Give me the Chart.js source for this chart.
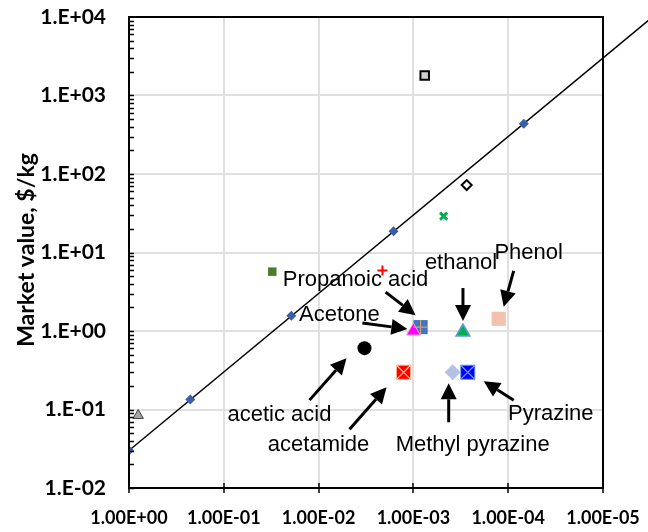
<!DOCTYPE html>
<html>
<head>
<meta charset="utf-8">
<script src="https://cdn.jsdelivr.net/npm/chart.js@4.4.1/dist/chart.umd.min.js"></script>
<style>
  html, body { margin: 0; padding: 0; background: #fff; }
  #wrap { width: 648px; height: 532px; }
</style>
</head>
<body>
<div id="wrap"><canvas id="c" width="648" height="532"></canvas></div>
<script>
// fitted line and its points
const lineX = [1, 0.226, 0.0194, 0.00162, 0.0000684];
const lineY = [0.03, 0.134, 1.56, 18.6, 437];
const fitX = [1, 0.0000033];
const fitY = [0.03, 9100];

// labelled compounds
const names = ['Acetone', 'Propanoic acid', 'ethanol', 'Phenol', 'acetic acid', 'acetamide', 'Methyl pyrazine', 'Pyrazine'];
const nameX = [0.001, 0.00084, 0.0003, 0.000126, 0.00328, 0.00127, 0.000385, 0.000267];
const nameY = [1.0, 1.12, 0.97, 1.43, 0.605, 0.298, 0.298, 0.298];

// unlabelled points
const otherX = [0.00076, 0.000274, 0.00048, 0.00212, 0.0308, 0.80];
const otherY = [1800, 72.3, 29, 5.9, 5.7, 0.084];

// ticks
const xTicks = [1, 0.1, 0.01, 0.001, 0.0001, 0.00001];
const xTickLabels = ['1.00E+00', '1.00E-01', '1.00E-02', '1.00E-03', '1.00E-04', '1.00E-05'];
const yTicks = [0.01, 0.1, 1, 10, 100, 1000, 10000];
const yTickLabels = ['1.E-02', '1.E-01', '1.E+00', '1.E+01', '1.E+02', '1.E+03', '1.E+04'];

// marker looks for the labelled ones (same order as names)
const nameStyle = [
  {ps: 'triangle', r: 8, bg: '#ff00ff', bc: '#f2a0f2', bw: 1},
  {ps: 'rect', r: 10, bg: '#4472c4', bc: '#4472c4', bw: 0, over: 'cross', oc: '#c8a86a', or: 7},
  {ps: 'triangle', r: 8, bg: '#00b050', bc: '#5b9bd5', bw: 1.5},
  {ps: 'rect', r: 10, bg: '#f4c0ae', bc: '#f4c0ae', bw: 0},
  {ps: 'circle', r: 7, bg: '#000', bc: '#000', bw: 0},
  {ps: 'rect', r: 10, bg: '#ff0000', bc: '#ffb38a', bw: 1, over: 'crossRot', oc: '#ffc090', or: 10},
  {ps: 'rectRot', r: 8, bg: '#b4c1e4', bc: '#b4c1e4', bw: 0},
  {ps: 'rect', r: 10, bg: '#0000ff', bc: '#6fa0d8', bw: 1, over: 'crossRot', oc: '#6fa0d8', or: 10}
];
const otherStyle = [
  {ps: 'rect', r: 6, bg: '#d0d0d0', bc: '#000', bw: 2},
  {ps: 'rectRot', r: 5, bg: '#fff', bc: '#000', bw: 2},
  {ps: 'crossRot', r: 5, bg: '#00b050', bc: '#00b050', bw: 3},
  {ps: 'cross', r: 5, bg: '#ff0000', bc: '#ff0000', bw: 2},
  {ps: 'rect', r: 6, bg: '#4e7a2e', bc: '#4e7a2e', bw: 0},
  {ps: 'triangle', r: 6, bg: '#a6a6a6', bc: '#404040', bw: 1}
];

// annotation offsets from the marker, in pixels: text centre, arrow tail, arrow tip
const notes = [
  {t: [-74, -16], a: [-51, -8], b: [-6, -2]},
  {t: [-65, -47], a: [-35, -35], b: [-5, -12]},
  {t: [-2, -69], a: [0, -44], b: [0, -11]},
  {t: [30, -66], a: [15, -48], b: [5, -12]},
  {t: [-85, 67], a: [-55, 52], b: [-18, 10]},
  {t: [-85, 73], a: [-54, 57], b: [-17, 15]},
  {t: [20, 73], a: [-4, 50], b: [-4, 11]},
  {t: [83, 42], a: [46, 28], b: [16, 9]}
];

const datasets = [];
datasets.push({
  type: 'line', data: fitX.map((x, i) => ({x: x, y: fitY[i]})),
  borderColor: '#000', borderWidth: 1.5, pointRadius: 0, clip: false, order: 5
});
datasets.push({
  data: lineX.map((x, i) => ({x: x, y: lineY[i]})),
  pointStyle: 'rectRot', pointRadius: 5, backgroundColor: '#3a5fa6', borderColor: '#3a5fa6', borderWidth: 0
});
otherX.forEach((x, i) => {
  const s = otherStyle[i];
  datasets.push({data: [{x: x, y: otherY[i]}], pointStyle: s.ps, pointRadius: s.r,
    backgroundColor: s.bg, borderColor: s.bc, borderWidth: s.bw});
});
nameX.forEach((x, i) => {
  const s = nameStyle[i];
  datasets.push({data: [{x: x, y: nameY[i]}], pointStyle: s.ps, pointRadius: s.r,
    backgroundColor: s.bg, borderColor: s.bc, borderWidth: s.bw});
  if (s.over) {
    datasets.push({data: [{x: x, y: nameY[i]}], pointStyle: s.over, pointRadius: s.or,
      backgroundColor: s.oc, borderColor: s.oc, borderWidth: 1.2, order: -1});
  }
});

function arrow(ctx, x1, y1, x2, y2) {
  const ang = Math.atan2(y2 - y1, x2 - x1);
  const hl = 16, hw = 8;
  const bx = x2 - hl * Math.cos(ang), by = y2 - hl * Math.sin(ang);
  ctx.beginPath();
  ctx.moveTo(x1, y1);
  ctx.lineTo(bx, by);
  ctx.lineWidth = 3;
  ctx.strokeStyle = '#000';
  ctx.stroke();
  ctx.beginPath();
  ctx.moveTo(x2, y2);
  ctx.lineTo(bx + hw * Math.sin(ang), by - hw * Math.cos(ang));
  ctx.lineTo(bx - hw * Math.sin(ang), by + hw * Math.cos(ang));
  ctx.closePath();
  ctx.fillStyle = '#000';
  ctx.fill();
}

const extras = {
  id: 'extras',
  afterDatasetsDraw(chart) {
    const ctx = chart.ctx, a = chart.chartArea;
    const xs = chart.scales.x, ys = chart.scales.y;
    ctx.save();
    // box
    ctx.strokeStyle = '#000';
    ctx.lineWidth = 2;
    ctx.strokeRect(a.left, a.top, a.right - a.left, a.bottom - a.top);
    // x ticks crossing the axis
    ctx.lineWidth = 1.5;
    xTicks.forEach(v => {
      const px = Math.round(xs.getPixelForValue(v));
      ctx.beginPath();
      ctx.moveTo(px, a.bottom - 5);
      ctx.lineTo(px, a.bottom + 5);
      ctx.stroke();
    });
    // y minor ticks, inside
    for (let k = -2; k < 4; k++) {
      for (let m = 1; m < 10; m++) {
        const py = Math.round(ys.getPixelForValue(m * Math.pow(10, k))) + 0.5;
        ctx.beginPath();
        ctx.moveTo(a.left, py);
        ctx.lineTo(a.left + 5, py);
        ctx.stroke();
      }
    }
    // annotations
    ctx.font = '22px "Liberation Sans", Arial, sans-serif';
    ctx.textAlign = 'center';
    ctx.textBaseline = 'middle';
    names.forEach((n, i) => {
      const px = xs.getPixelForValue(nameX[i]), py = ys.getPixelForValue(nameY[i]);
      const o = notes[i];
      arrow(ctx, px + o.a[0], py + o.a[1], px + o.b[0], py + o.b[1]);
      ctx.fillStyle = '#000';
      ctx.fillText(n, px + o.t[0], py + o.t[1]);
    });
    // y title
    ctx.translate(27, 250);
    ctx.rotate(-Math.PI / 2);
    ctx.font = 'bold 23px Lato, sans-serif';
    ctx.fillText('Market value, $/kg', 0, 0);
    ctx.restore();
  }
};

new Chart(document.getElementById('c'), {
  type: 'scatter',
  data: {datasets: datasets},
  options: {
    responsive: false,
    devicePixelRatio: 1,
    animation: false,
    layout: {padding: {top: 17, right: 45, left: 0, bottom: 0}},
    plugins: {legend: {display: false}, tooltip: {enabled: false}},
    scales: {
      x: {
        type: 'logarithmic', reverse: true, min: 0.00001, max: 1,
        afterBuildTicks: s => { s.ticks = xTicks.slice().reverse().map(v => ({value: v})); },
        afterFit: s => { s.height = 44; },
        ticks: {
          autoSkip: false, maxRotation: 0, padding: 19, color: '#000',
          font: {family: 'Lato', weight: 'bold', size: 18},
          callback: v => xTickLabels[xTicks.indexOf(v)]
        },
        grid: {color: '#e0e0e0', lineWidth: 2, drawTicks: false},
        border: {color: '#000', width: 2}
      },
      y: {
        type: 'logarithmic', min: 0.01, max: 10000,
        afterBuildTicks: s => { s.ticks = yTicks.map(v => ({value: v})); },
        afterFit: s => { s.width = 129; s.paddingTop = 0; s.paddingBottom = 0; },
        ticks: {
          autoSkip: false, padding: 23, color: '#000',
          font: {family: 'Lato', weight: 'bold', size: 21},
          callback: v => yTickLabels[yTicks.indexOf(v)]
        },
        grid: {color: '#e0e0e0', lineWidth: 2, drawTicks: false},
        border: {color: '#000', width: 2}
      }
    }
  },
  plugins: [extras]
});
</script>
</body>
</html>
